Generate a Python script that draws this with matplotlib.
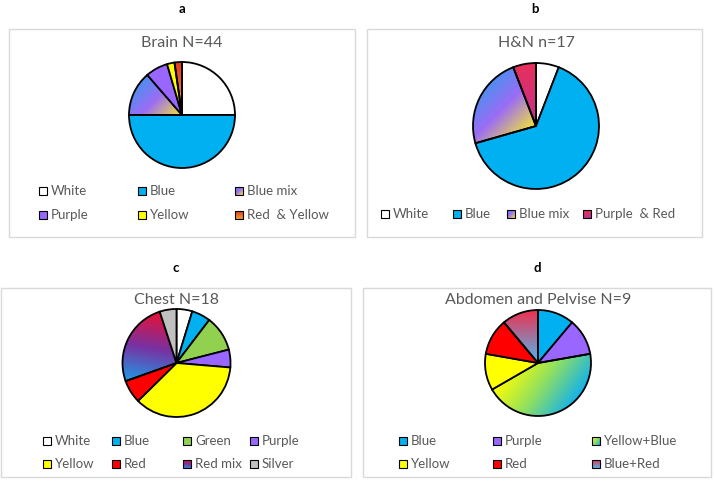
import numpy as np
import matplotlib.pyplot as plt
from matplotlib.patches import Rectangle
from matplotlib.colors import LinearSegmentedColormap

plt.rcParams['font.family'] = ['Lato', 'DejaVu Sans']

# ---- data ----
brain_labels = ["White", "Blue", "Blue mix", "Purple", "Yellow", "Red & Yellow"]
brain_values = [11, 22, 6, 3, 1, 1]

hn_labels = ["White", "Blue", "Blue mix", "Purple & Red"]
hn_values = [1, 11, 4, 1]

chest_labels = ["White", "Blue", "Green", "Purple", "Yellow", "Red", "Red mix", "Silver"]
chest_values = [4.7, 5.6, 10.6, 5.3, 36.1, 6.9, 25.3, 5.0]

abd_labels = ["Blue", "Purple", "Yellow+Blue", "Yellow", "Red", "Blue+Red"]
abd_values = [1, 1, 4, 1, 1, 1]

# solid colours or (gradient stops, direction angle)
fills = {
    "White": "#ffffff",
    "Blue": "#00b0f0",
    "Purple": "#9966ff",
    "Yellow": "#ffff00",
    "Green": "#92d050",
    "Red": "#ff0000",
    "Silver": "#c0c0c0",
    "Blue mix": ([(0, "#4a90f0"), (0.45, "#9b6cf5"), (1, "#f2e33a")], -45),
    "Red & Yellow": ([(0, "#e8361e"), (1, "#f0a030")], -90),
    "Purple & Red": ([(0, "#e8305a"), (1, "#c03090")], -90),
    "Red mix": ([(0, "#ee1030"), (0.5, "#7a30a0"), (1, "#1f9ae8")], -100),
    "Yellow+Blue": ([(0, "#ffff00"), (0.5, "#90e060"), (1, "#10b0f0")], -35),
    "Blue+Red": ([(0, "#ee3050"), (1, "#50b8f0")], -90),
}

W, H = 714, 483
TXT = "#595959"

fig = plt.figure(figsize=(7.14, 4.83), dpi=100)
ax = fig.add_axes([0, 0, 1, 1])


def gradient_fill(ax, patch, stops, angle):
    verts = patch.get_patch_transform().transform(patch.get_path().vertices)
    x0, y0 = verts.min(0)
    x1, y1 = verts.max(0)
    a = np.deg2rad(angle)
    d = np.array([np.cos(a), np.sin(a)])
    proj = verts @ d
    gx, gy = np.meshgrid(np.linspace(x0, x1, 120), np.linspace(y0, y1, 120))
    t = (gx * d[0] + gy * d[1] - proj.min()) / (proj.max() - proj.min())
    cmap = LinearSegmentedColormap.from_list("g", stops)
    img = ax.imshow(cmap(np.clip(t, 0, 1)), extent=[x0, x1, y0, y1], origin="lower",
                    interpolation="bilinear", aspect="auto",
                    zorder=patch.get_zorder() - 0.1)
    img.set_clip_path(patch)
    patch.set_facecolor("none")


def paint(patch, label):
    f = fills[label]
    if isinstance(f, tuple):
        gradient_fill(ax, patch, f[0], f[1])
    else:
        patch.set_facecolor(f)


def panel(box, letter, title, title_y, labels, values, center, radius, legend):
    bx0, by0, bx1, by1 = box
    ax.add_patch(Rectangle((bx0, H - by1), bx1 - bx0, by1 - by0, facecolor="white",
                           edgecolor="#d9d9d9", lw=1, zorder=0))
    ax.text((bx0 + bx1) / 2, H - (by0 - 20), letter, ha="center", va="center",
            fontsize=9.5, fontweight="bold", color="black")
    ax.text(center[0], H - title_y, title, ha="center", va="center", fontsize=11.5, color=TXT)
    wedges, _ = ax.pie(values, startangle=90, counterclock=False,
                       center=(center[0], H - center[1]), radius=radius,
                       wedgeprops=dict(edgecolor="black", linewidth=1.3))
    for w, lab in zip(wedges, labels):
        paint(w, lab)
    cols, rows = legend
    for i, lab in enumerate(labels):
        lx = cols[i % len(cols)]
        ly = H - rows[i // len(cols)]
        r = Rectangle((lx, ly - 4), 8, 8, edgecolor="black", lw=0.8, zorder=2)
        ax.add_patch(r)
        paint(r, lab)
        ax.text(lx + 12, ly, lab.replace(" & ", "  & "), ha="left", va="center",
                fontsize=9.5, color=TXT)


panel((9, 29, 355, 237), "a", "Brain N=44", 43, brain_labels, brain_values,
      (182, 115), 53, ([39, 138, 235], [191, 215]))
panel((367, 29, 702, 237), "b", "H&N n=17", 43, hn_labels, hn_values,
      (536, 126), 63, ([381, 453, 507, 583], [214]))
panel((1, 288, 351, 477), "c", "Chest N=18", 300, chest_labels, chest_values,
      (176.5, 363), 54, ([43, 112, 183, 250], [441, 464]))
panel((363, 288, 711, 477), "d", "Abdomen and Pelvise N=9", 300, abd_labels, abd_values,
      (538, 363), 53, ([399, 493, 592], [441, 464]))

ax.set_xlim(0, W)
ax.set_ylim(0, H)
ax.set_axis_off()
fig.savefig("out.png", dpi=100)
